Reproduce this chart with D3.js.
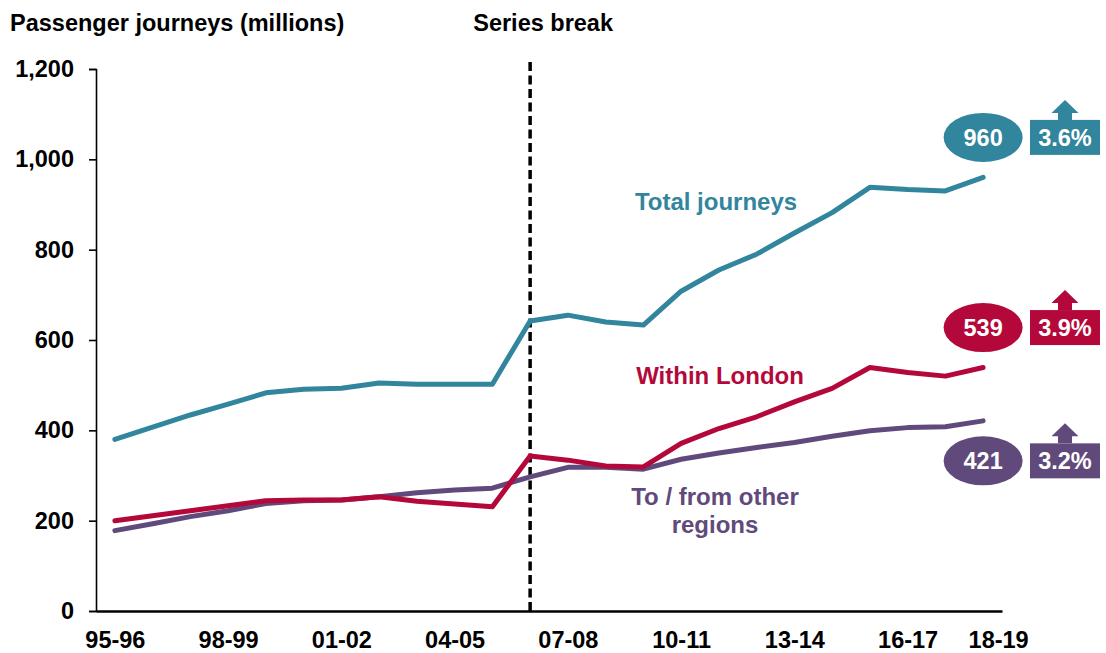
<!DOCTYPE html>
<html>
<head>
<meta charset="utf-8">
<script src="https://cdn.jsdelivr.net/npm/d3@7"></script>
<style>
  html, body { margin: 0; padding: 0; background: #fff; }
  svg { display: block; font-family: "Liberation Sans", Arial, Helvetica, sans-serif; font-weight: bold; }
</style>
</head>
<body>
<svg id="chart" width="1106" height="653"></svg>
<script>
const years = ["95-96","96-97","97-98","98-99","99-00","00-01","01-02","02-03","03-04","04-05","05-06","06-07","07-08","08-09","09-10","10-11","11-12","12-13","13-14","14-15","15-16","16-17","17-18","18-19"];
const totalJourneys = [380,407,434,458,483,491,493,505,502,502,502,642,655,640,633,708,755,790,837,882,938,933,930,960];
const withinLondon = [200,211,222,233,244,246,246,253,243,237,231,343,334,321,319,371,404,430,463,493,539,528,520,539];
const otherRegions = [178,193,209,222,238,244,246,253,262,268,272,297,318,318,314,336,350,362,373,387,399,406,408,421];
const xTickLabels = ["95-96","98-99","01-02","04-05","07-08","10-11","13-14","16-17","18-19"];
const yTicks = [0,200,400,600,800,1000,1200];
const seriesBreakYear = "06-07";
const growthLabels = ["3.6%","3.9%","3.2%"];
const seriesNames = ["Total journeys","Within London","To / from other regions"];

const colors = ["#31859C", "#B5083A", "#604A7B"];

const svg = d3.select("#chart");
const x = d3.scalePoint().domain(years).range([96, 1002]).padding(0.5);
const y = d3.scaleLinear().domain([0, 1200]).range([611, 69]);

// Y axis
const yAxis = svg.append("g").attr("transform", "translate(96,0)")
  .call(d3.axisLeft(y).tickValues(yTicks).tickSize(7).tickPadding(15).tickFormat(d3.format(",")));
yAxis.select(".domain").attr("stroke", "#000").attr("stroke-width", 1.6);
yAxis.selectAll(".tick line").attr("stroke", "#000").attr("stroke-width", 1.6);
yAxis.selectAll(".tick text").attr("fill", "#000").style("font-size", "23.5px").style("font-family", "inherit");

// X axis
const xAxis = svg.append("g").attr("transform", "translate(0,611)")
  .call(d3.axisBottom(x).tickValues(xTickLabels).tickSize(0).tickPadding(20));
xAxis.select(".domain").attr("stroke", "#000").attr("stroke-width", 2.6);
xAxis.selectAll(".tick text").attr("fill", "#000").style("font-size", "23.5px").style("font-family", "inherit")
  .attr("dx", d => d === "18-19" ? 15 : 0);

// Series break
svg.append("line")
  .attr("x1", x(seriesBreakYear)).attr("x2", x(seriesBreakYear))
  .attr("y1", 62).attr("y2", 611)
  .attr("stroke", "#000").attr("stroke-width", 3.5).attr("stroke-dasharray", "9,4.5");

// Lines
const line = d3.line().x((d, i) => x(years[i])).y(d => y(d));
const series = [totalJourneys, withinLondon, otherRegions];
[otherRegions, withinLondon, totalJourneys].forEach(s => {
  const idx = series.indexOf(s);
  svg.append("path").datum(s)
    .attr("d", line)
    .attr("fill", "none")
    .attr("stroke", colors[idx])
    .attr("stroke-width", 5)
    .attr("stroke-linejoin", "round")
    .attr("stroke-linecap", "round");
});

// Titles
svg.append("text").attr("x", 10).attr("y", 31).attr("fill", "#000")
  .style("font-size", "23.5px").text("Passenger journeys (millions)");
svg.append("text").attr("x", x(seriesBreakYear) + 13).attr("y", 31).attr("fill", "#000")
  .attr("text-anchor", "middle").style("font-size", "23.5px").text("Series break");

// Series labels
svg.append("text").attr("x", 716).attr("y", 210).attr("text-anchor", "middle")
  .attr("fill", colors[0]).style("font-size", "24px").text(seriesNames[0]);
svg.append("text").attr("x", 720).attr("y", 384).attr("text-anchor", "middle")
  .attr("fill", colors[1]).style("font-size", "24px").text(seriesNames[1]);
const t3 = svg.append("text").attr("text-anchor", "middle").attr("fill", colors[2]).style("font-size", "24px");
t3.append("tspan").attr("x", 715).attr("y", 505).text("To / from other");
t3.append("tspan").attr("x", 715).attr("y", 533).text("regions");

// End bubbles and growth boxes
const last = years.length - 1;
const offsets = [-40, -40, 40];
series.forEach((s, i) => {
  const cx = x(years[last]);
  const cy = y(s[last]) + offsets[i];
  svg.append("ellipse").attr("cx", cx).attr("cy", cy).attr("rx", 39.5).attr("ry", 24.5).attr("fill", colors[i]);
  svg.append("text").attr("x", cx).attr("y", cy + 8.5).attr("text-anchor", "middle")
    .attr("fill", "#fff").style("font-size", "23.5px").text(d3.format("d")(s[last]));
  const bx = 1030, bw = 70, bh = 35;
  const ax = bx + bw / 2;
  svg.append("rect").attr("x", bx).attr("y", cy - bh / 2).attr("width", bw).attr("height", bh).attr("fill", colors[i]);
  const top = cy - bh / 2;
  svg.append("path")
    .attr("d", `M${ax - 7},${top} L${ax - 7},${top - 7} L${ax - 13.5},${top - 7} L${ax},${top - 20} L${ax + 13.5},${top - 7} L${ax + 7},${top - 7} L${ax + 7},${top} Z`)
    .attr("fill", colors[i]);
  svg.append("text").attr("x", ax).attr("y", cy + 8.5).attr("text-anchor", "middle")
    .attr("fill", "#fff").style("font-size", "23.5px").text(growthLabels[i]);
});
</script>
</body>
</html>
